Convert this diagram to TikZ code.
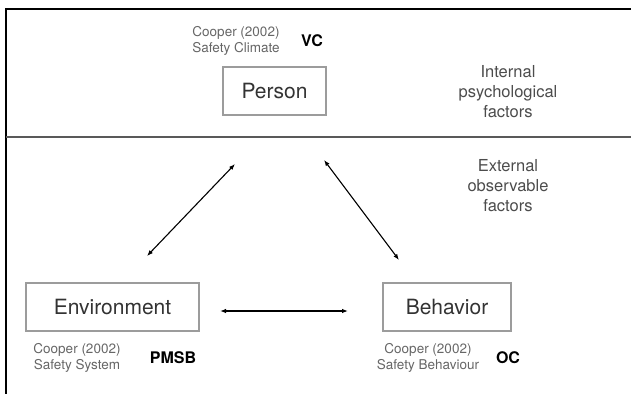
\documentclass[tikz,border=0pt]{standalone}
\usepackage{fontspec}
\setmainfont{TeX Gyre Heros}
\usetikzlibrary{arrows.meta}
\definecolor{boxgray}{HTML}{9C9C9C}
\definecolor{textgray}{HTML}{333333}
\definecolor{notegray}{HTML}{666666}

\begin{document}
\begin{tikzpicture}[x = 1pt, y = -1pt,
    factor/.style = {shape = rectangle, draw = boxgray, line width = 1.2pt, text = textgray, font = \fontsize{21}{24}\selectfont, inner sep = 0pt},
    source/.style = {align = center, text = notegray, font = \fontsize{13.5}{16}\selectfont},
    tag/.style = {font = \fontsize{16}{18}\selectfont\bfseries},
    layer/.style = {align = center, text = black!70, font = \fontsize{16.5}{20}\selectfont},
    link/.style = {{Latex[length = 6pt, width = 4.5pt]}-{Latex[length = 6pt, width = 4.5pt]}, line width = 1.1pt}]
    \useasboundingbox (0,0) rectangle (631,394);
    \draw[line width = 2.5pt] (631,9) -- (6,9) -- (6,394);
    \draw[line width = 1.5pt, color = black!65] (6,137) -- (631,137);

    \node[factor, minimum width = 103pt, minimum height = 48pt] (P) at (274.5,91) {Person};
    \node[factor, minimum width = 173pt, minimum height = 48pt] (E) at (112.5,307) {Environment};
    \node[factor, minimum width = 128pt, minimum height = 48pt] (B) at (447,307) {Behavior};

    \node[source] (CP) at (236,41) {Cooper (2002)\\Safety Climate};
    \node[tag] (VC) at (312,41) {VC};
    \node[source] (CE) at (77,358) {Cooper (2002)\\Safety System};
    \node[tag] (PMSB) at (173,358) {PMSB};
    \node[source] (CB) at (428,358) {Cooper (2002)\\Safety Behaviour};
    \node[tag] (OC) at (508,358) {OC};

    \node[layer] (IN) at (508,92) {Internal\\psychological\\factors};
    \node[layer] (EX) at (508,186) {External\\observable\\factors};

    \coordinate (PE) at (235,164);
    \coordinate (EP) at (147,256);
    \coordinate (PB) at (324,160);
    \coordinate (BP) at (399,260);
    \coordinate (EB) at (220,311);
    \coordinate (BE) at (348,311);
    \draw[link] (EP) -- (PE);
    \draw[link] (PB) -- (BP);
    \draw[link] (EB) -- (BE);
\end{tikzpicture}
\end{document}
